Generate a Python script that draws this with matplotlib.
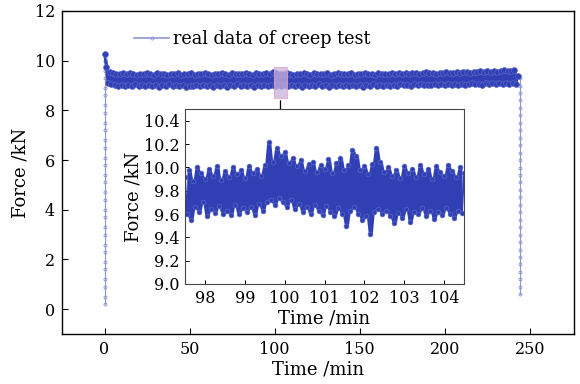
import numpy as np
import matplotlib
matplotlib.use("Agg")
import matplotlib.pyplot as plt
from matplotlib.lines import Line2D
from matplotlib.ticker import FormatStrFormatter

plt.rcParams['font.family'] = ['DejaVu Serif']
plt.rcParams['mathtext.fontset'] = 'dejavuserif'

# ---------------- data ----------------
# loading ramp at t = 0 min
ramp_time = 0.0
ramp_force = [0.2, 0.5, 0.9, 1.2, 1.6, 1.9, 2.3, 2.6, 3.0, 3.3, 3.7, 4.0, 4.4,
              4.7, 5.1, 5.4, 5.8, 6.1, 6.5, 6.8, 7.2, 7.5, 7.9, 8.2, 8.6, 8.9,
              9.3, 9.6, 10.0]
# plateau, one reading per minute (t = 0 ... 243 min)
plateau_start = 0
plateau_force = [
    10.25, 9.75, 9.10, 9.55, 9.05, 9.50, 9.02, 9.48, 9.00, 9.46, 9.04, 9.50, 8.98, 9.45, 9.03, 9.49, 9.00, 9.47, 9.05, 9.44,
    8.98, 9.48, 9.02, 9.45, 8.97, 9.50, 9.04, 9.46, 8.99, 9.43, 9.03, 9.49, 8.96, 9.45, 9.01, 9.47, 8.98, 9.44, 9.05, 9.48,
    8.97, 9.45, 9.02, 9.50, 8.99, 9.44, 9.04, 9.47, 8.96, 9.46, 9.00, 9.49, 8.98, 9.43, 9.03, 9.48, 8.97, 9.45, 9.02, 9.50,
    8.99, 9.46, 9.04, 9.44, 8.95, 9.48, 9.01, 9.45, 8.98, 9.50, 9.03, 9.47, 8.96, 9.44, 9.02, 9.49, 8.99, 9.46, 9.05, 9.48,
    8.97, 9.45, 9.03, 9.50, 8.98, 9.46, 9.01, 9.44, 8.96, 9.49, 9.04, 9.47, 8.99, 9.45, 9.02, 9.52, 8.98, 9.48, 9.03, 9.55,
    9.00, 9.50, 9.04, 9.47, 8.98, 9.45, 9.02, 9.49, 8.97, 9.46, 9.03, 9.44, 8.99, 9.48, 9.01, 9.45, 8.96, 9.50, 9.04, 9.47,
    8.98, 9.44, 9.02, 9.49, 8.97, 9.46, 9.05, 9.48, 8.99, 9.45, 9.01, 9.50, 8.96, 9.44, 9.03, 9.47, 8.98, 9.49, 9.02, 9.45,
    8.97, 9.48, 9.04, 9.46, 8.99, 9.50, 9.01, 9.44, 8.98, 9.47, 9.03, 9.45, 8.96, 9.49, 9.02, 9.46, 8.99, 9.48, 9.05, 9.44,
    8.98, 9.50, 9.02, 9.46, 8.97, 9.48, 9.04, 9.45, 9.00, 9.49, 9.03, 9.47, 8.98, 9.51, 9.05, 9.48, 9.01, 9.50, 9.04, 9.46,
    9.00, 9.49, 9.05, 9.52, 9.02, 9.48, 9.06, 9.50, 9.01, 9.53, 9.04, 9.49, 9.03, 9.51, 9.07, 9.48, 9.02, 9.52, 9.05, 9.50,
    9.03, 9.54, 9.06, 9.50, 9.02, 9.52, 9.07, 9.55, 9.04, 9.51, 9.08, 9.53, 9.03, 9.56, 9.06, 9.52, 9.09, 9.55, 9.05, 9.53,
    9.08, 9.57, 9.04, 9.54, 9.09, 9.58, 9.06, 9.55, 9.10, 9.60, 9.05, 9.56, 9.09, 9.58, 9.07, 9.62, 9.10, 9.57, 9.06, 9.60,
    9.12, 9.63, 9.08, 9.40]
# unloading at t = 244 min
unload_time = 244.0
unload_force = [9.3, 9.0, 8.7, 8.4, 8.1, 7.8, 7.5, 7.2, 6.9, 6.6, 6.3, 6.0, 5.7,
                5.4, 5.1, 4.8, 4.5, 4.2, 3.9, 3.6, 3.3, 3.0, 2.7, 2.4, 2.1, 1.8,
                1.5, 1.2, 0.9, 0.6]
# zoomed window 97.5 ... 104.5 min, one reading every 0.05 min
inset_start = 97.5
inset_step = 0.05
inset_force = [
    9.92, 9.60, 9.98, 9.55, 9.88, 9.66, 10.00, 9.62, 9.95, 9.70, 9.90, 9.58, 9.99, 9.64, 9.93, 9.61, 10.01, 9.67, 9.89, 9.60,
    9.97, 9.63, 9.92, 9.59, 10.00, 9.68, 9.94, 9.60, 9.98, 9.65, 9.91, 9.62, 10.01, 9.66, 9.95, 9.59, 9.99, 9.69, 9.93, 9.63,
    10.02, 9.70, 10.22, 9.72, 10.05, 9.68, 10.17, 9.74, 10.10, 9.70, 10.13, 9.66, 10.04, 9.72, 10.08, 9.64, 10.01, 9.69, 10.06, 9.62,
    9.97, 9.66, 10.03, 9.60, 10.05, 9.68, 9.96, 9.63, 10.02, 9.59, 9.99, 9.67, 10.07, 9.62, 9.95, 9.58, 10.04, 9.65, 10.08, 9.60,
    9.98, 9.50, 10.02, 9.63, 10.15, 9.66, 10.10, 9.60, 9.98, 9.55, 10.01, 9.58, 9.94, 9.43, 10.03, 9.62, 10.17, 9.64, 10.05, 9.60,
    9.96, 9.63, 10.00, 9.58, 9.93, 9.52, 9.98, 9.61, 9.91, 9.57, 10.01, 9.64, 9.95, 9.53, 9.99, 9.62, 9.92, 9.60, 10.02, 9.65,
    9.94, 9.58, 9.99, 9.63, 9.90, 9.56, 10.01, 9.62, 9.96, 9.59, 9.93, 9.65, 10.02, 9.60, 9.97, 9.57, 9.92, 9.63, 10.00, 9.61, 9.95]
# highlighted window in the main plot
window_t = (99.6, 107.3)
window_f = (8.5, 9.73)
legend_label = "real data of creep test"

# ---------------- styles ----------------
dark = '#3040b4'
speck = '#5a68c8'
light = '#9096d4'


def band(ax, t, f, ms, lw):
    f = np.asarray(f)
    lo = np.minimum(np.minimum(f[:-2], f[1:-1]), f[2:])
    hi = np.maximum(np.maximum(f[:-2], f[1:-1]), f[2:])
    ax.fill_between(t[1:-1], lo, hi, color=dark, lw=0, zorder=2)
    ax.plot(t, f, color=dark, lw=lw, zorder=2.1)
    ax.plot(t, f, ls='none', marker='o', ms=ms, mfc=dark, mec=speck,
            mew=0.5, zorder=2.2)


fig = plt.figure(figsize=(5.8, 3.84), dpi=100)
ax = fig.add_axes([62/580, 1-334/384, 512/580, 323/384])

ax.plot([ramp_time]*len(ramp_force), ramp_force, color=light, lw=0.8,
        marker='o', ms=2.2, mfc='none', mew=0.6)
ax.plot([unload_time]*len(unload_force), unload_force, color=light, lw=0.8,
        marker='o', ms=2.2, mfc='none', mew=0.6)
pt = plateau_start + np.arange(len(plateau_force))
band(ax, pt, plateau_force, ms=4.2, lw=1.8)

ax.add_patch(plt.Rectangle((window_t[0], window_f[0]), window_t[1]-window_t[0],
                           window_f[1]-window_f[0], facecolor='#c8b2dc', alpha=0.75,
                           edgecolor='#e6a3c3', lw=0.8, zorder=3))
xm = 0.5*(window_t[0]+window_t[1])
ax.annotate('', xy=(xm, 7.15), xytext=(xm, window_f[0]),
            arrowprops=dict(arrowstyle='-|>', color='black', lw=0.9,
                            mutation_scale=10), zorder=4)

ax.set_xlim(-25, 276)
ax.set_ylim(-1, 12)
ax.set_xticks([0, 50, 100, 150, 200, 250])
ax.set_yticks([0, 2, 4, 6, 8, 10, 12])
ax.tick_params(direction='in', labelsize=11.5, length=4, width=0.8, pad=5)
ax.set_xlabel('Time /min', fontsize=13, labelpad=2)
ax.set_ylabel('Force /kN', fontsize=13, labelpad=4)
for s in ax.spines.values():
    s.set_linewidth(1.0)

handle = Line2D([], [], color=light, lw=1.2, marker='o', ms=2.2, mfc='none', mew=0.6)
ax.legend([handle], [legend_label], loc='upper left', bbox_to_anchor=(0.11, 0.99),
          frameon=False, fontsize=12.7, handlelength=2.0, handletextpad=0.2)

# ---------------- inset ----------------
ins = fig.add_axes([185/580, 1-284/384, 279/580, 175/384])
it = inset_start + inset_step*np.arange(len(inset_force))
band(ins, it, inset_force, ms=3.4, lw=1.3)
ins.set_xlim(97.5, 104.5)
ins.set_ylim(9.0, 10.5)
ins.set_xticks([98, 99, 100, 101, 102, 103, 104])
ins.set_yticks([9.0, 9.2, 9.4, 9.6, 9.8, 10.0, 10.2, 10.4])
ins.yaxis.set_major_formatter(FormatStrFormatter('%.1f'))
ins.tick_params(direction='in', labelsize=11.5, length=3, width=0.7, pad=4)
ins.set_xlabel('Time /min', fontsize=13, labelpad=2)
ins.set_ylabel('Force /kN', fontsize=13, labelpad=1)
for s in ins.spines.values():
    s.set_linewidth(0.8)
    s.set_color('#444444')

fig.savefig('out.png', dpi=100)
